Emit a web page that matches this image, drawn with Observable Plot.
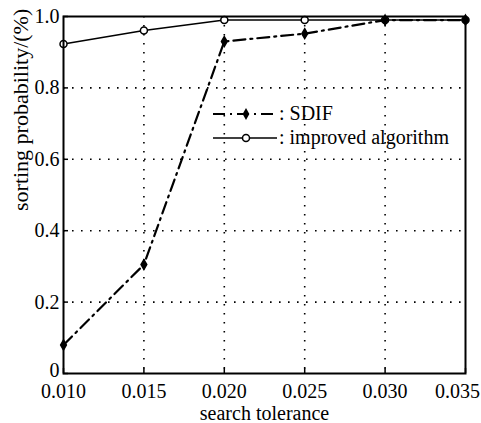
<!DOCTYPE html>
<html>
<head>
<meta charset="utf-8">
<script src="https://cdn.jsdelivr.net/npm/d3@7"></script>
<script src="https://cdn.jsdelivr.net/npm/@observablehq/plot@0.6"></script>
<style>
  html, body { margin: 0; padding: 0; background: #fff; }
</style>
</head>
<body>
<div id="chart"></div>
<script>
const tolerance = [0.010, 0.015, 0.020, 0.025, 0.030, 0.035];
const sdif = [0.08, 0.305, 0.93, 0.952, 0.99, 0.99];
const improved = [0.923, 0.961, 0.99, 0.99, 0.99, 0.99];
const xTicks = [0.010, 0.015, 0.020, 0.025, 0.030, 0.035];
const yTicks = [0, 0.2, 0.4, 0.6, 0.8, 1.0];
const seriesNames = ["SDIF", "improved algorithm"];

const sdifData = tolerance.map((x, i) => ({x, y: sdif[i]}));
const impData = tolerance.map((x, i) => ({x, y: improved[i]}));

const font = "Liberation Serif";
const xFmt = d3.format(".3f");
const yFmt = d => d === 0 ? "0" : d3.format(".1f")(d);
const dotted = {stroke: "#000", strokeOpacity: 1, strokeWidth: 1.6, strokeDasharray: "1.6,7.4"};

const plot = Plot.plot({
  width: 481,
  height: 423,
  marginLeft: 63,
  marginRight: 16,
  marginTop: 16,
  marginBottom: 50,
  style: {fontFamily: font, fontSize: "20px", color: "#000", background: "#fff"},
  x: {domain: [0.010, 0.035], label: null},
  y: {domain: [0, 1], label: null},
  marks: [
    Plot.gridX(xTicks.slice(1, -1), dotted),
    Plot.gridY(yTicks.slice(1, -1), dotted),
    Plot.axisX(xTicks.slice(0, -1), {tickFormat: xFmt, tickSize: 0, tickPadding: 10, fontSize: 20, fontFamily: font, fill: "#000", label: null}),
    Plot.axisX(xTicks.slice(-1), {tickFormat: xFmt, tickSize: 0, tickPadding: 10, dx: -8, fontSize: 20, fontFamily: font, fill: "#000", label: null}),
    Plot.axisX(xTicks, {tickSize: -5, text: null, strokeWidth: 1.5, label: null}),
    Plot.axisY(yTicks.slice(1), {tickFormat: yFmt, tickSize: 0, tickPadding: 4, fontSize: 20, fontFamily: font, fill: "#000", label: null}),
    Plot.axisY(yTicks.slice(0, 1), {tickFormat: yFmt, tickSize: 0, tickPadding: 4, dy: -3, fontSize: 20, fontFamily: font, fill: "#000", label: null}),
    Plot.axisY(yTicks, {tickSize: -5, text: null, strokeWidth: 1.5, label: null}),
    Plot.line(impData, {x: "x", y: "y", stroke: "#000", strokeWidth: 1.5}),
    Plot.dot(impData, {x: "x", y: "y", r: 3.5, stroke: "#000", strokeWidth: 1.5, fill: "#fff"}),
    Plot.line(sdifData, {x: "x", y: "y", stroke: "#000", strokeWidth: 2.2, strokeDasharray: "12,5,2,5"}),
    Plot.dot(sdifData, {x: "x", y: "y", r: 3, symbol: "diamond", fill: "#000", stroke: "#000"}),
    Plot.frame({stroke: "#000", strokeWidth: 2}),
    Plot.text(["search tolerance"], {frameAnchor: "bottom", lineAnchor: "middle", dy: 40, fontSize: 20, fontFamily: font, fill: "#000"}),
    Plot.text(["sorting probability/(%)"], {frameAnchor: "left", dx: -43, dy: 16, rotate: -90, fontSize: 22, fontFamily: font, fill: "#000"})
  ]
});

document.getElementById("chart").appendChild(plot);

// legend
const svg = d3.select(plot);
const lg = svg.append("g").attr("font-family", font).attr("font-size", 20).attr("fill", "#000").attr("text-anchor", "start");
const rows = [
  {name: seriesNames[0], y: 114, dash: "12,5,2,5", w: 2.2, marker: "diamond"},
  {name: seriesNames[1], y: 138, dash: null, w: 1.5, marker: "circle"}
];
rows.forEach(r => {
  const l = lg.append("line").attr("x1", 213).attr("x2", 277).attr("y1", r.y).attr("y2", r.y)
    .attr("stroke", "#000").attr("stroke-width", r.w);
  if (r.dash) l.attr("stroke-dasharray", r.dash);
  if (r.marker === "circle") {
    lg.append("circle").attr("cx", 246).attr("cy", r.y).attr("r", 3.5).attr("fill", "#fff").attr("stroke", "#000").attr("stroke-width", 1.5);
  } else {
    lg.append("path").attr("d", d3.symbol(d3.symbolDiamond, 40)()).attr("transform", `translate(246,${r.y})`).attr("fill", "#000");
  }
  lg.append("text").attr("x", 279).attr("y", r.y).attr("dy", "0.32em").text(": " + r.name);
});
</script>
</body>
</html>
